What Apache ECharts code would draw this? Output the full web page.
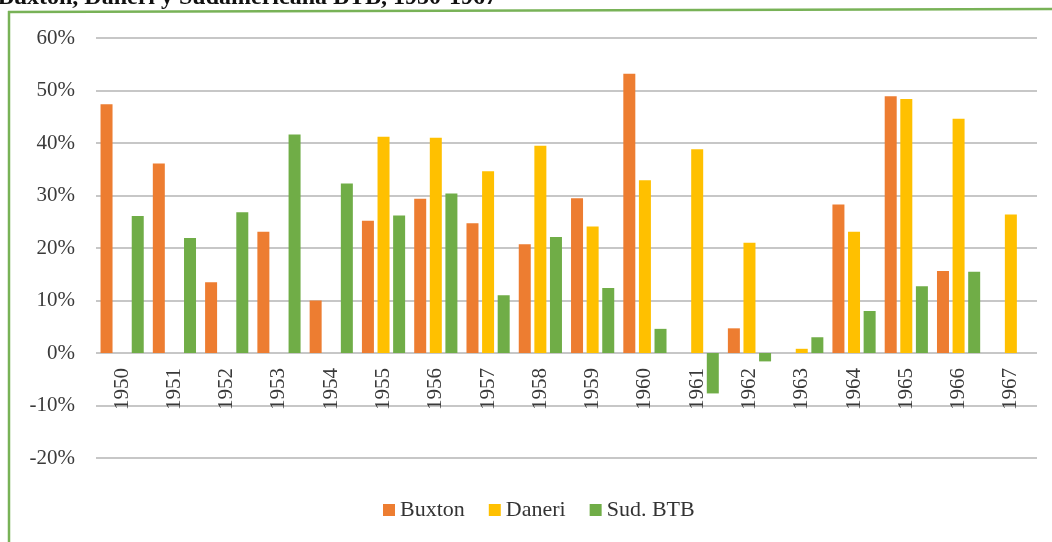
<!DOCTYPE html>
<html lang="es">
<head>
    <meta charset="UTF-8">
    <title>Buxton, Daneri y Sudamericana BTB</title>
    <script type="text/javascript" src="https://cdn.jsdelivr.net/npm/echarts@6/dist/echarts.min.js"></script>
    <style>
        html, body {
            width: 100%;
            height: 100%;
            margin: 0;
            padding: 0;
            background: #fff;
        }
        #main {
            width: 1052px;
            height: 542px;
        }
    </style>
</head>
<body>
    <div id="main"></div>
    <script>
        // datos (en %)
        var years = ['1950', '1951', '1952', '1953', '1954', '1955', '1956', '1957', '1958',
                     '1959', '1960', '1961', '1962', '1963', '1964', '1965', '1966', '1967'];
        var buxton = [47.4, 36.1, 13.5, 23.1, 10.0, 25.2, 29.4, 24.7, 20.7,
                      29.5, 53.2, null, 4.7, null, 28.3, 48.9, 15.6, null];
        var daneri = [null, null, null, null, null, 41.2, 41.0, 34.6, 39.5,
                      24.1, 32.9, 38.8, 21.0, 0.8, 23.1, 48.4, 44.6, 26.4];
        var sudBtb = [26.1, 21.9, 26.8, 41.6, 32.3, 26.2, 30.4, 11.0, 22.1,
                      12.4, 4.6, -7.7, -1.6, 3.0, 8.0, 12.7, 15.5, null];
        var seriesNames = ['Buxton', 'Daneri', 'Sud. BTB'];
        var colors = ['#ED7D31', '#FFC000', '#70AD47'];

        var serif = "'Liberation Serif', 'DejaVu Serif', serif";
        var myChart = echarts.init(document.getElementById('main'));

        function barSeries(name, data, color) {
            return {
                name: name,
                type: 'bar',
                data: data,
                barWidth: 12,
                barGap: '30%',
                itemStyle: { color: color }
            };
        }

        var option = {
            backgroundColor: '#fff',
            animation: false,
            color: colors,
            graphic: [
                {
                    type: 'text',
                    x: 497,
                    y: 10,
                    style: {
                        text: 'Buxton, Daneri y Sudamericana BTB, 1950-1967',
                        font: "bold 24px 'Liberation Serif', serif",
                        fill: '#111',
                        align: 'right',
                        verticalAlign: 'bottom'
                    }
                },
                {
                    type: 'line',
                    shape: { x1: 8, y1: 12, x2: 1052, y2: 9 },
                    style: { stroke: '#78b257', lineWidth: 2.5 }
                },
                {
                    type: 'line',
                    shape: { x1: 9, y1: 11, x2: 9, y2: 542 },
                    style: { stroke: '#78b257', lineWidth: 2.5 }
                }
            ],
            legend: {
                data: seriesNames,
                left: 378,
                top: 494,
                itemWidth: 12,
                itemHeight: 12,
                itemGap: 24,
                icon: 'rect',
                textStyle: { fontFamily: serif, fontSize: 22, color: '#333' }
            },
            grid: {
                left: 96,
                right: 15,
                top: 38,
                bottom: 84,
                containLabel: false
            },
            xAxis: {
                type: 'category',
                data: years,
                // el eje va en la línea del 0%
                offset: -105,
                axisTick: { show: false },
                axisLine: { onZero: false, show: false },
                axisLabel: {
                    rotate: 90,
                    margin: 15,
                    interval: 0,
                    fontFamily: serif,
                    fontSize: 21,
                    color: '#3a3a3a'
                }
            },
            yAxis: {
                type: 'value',
                min: -20,
                max: 60,
                interval: 10,
                axisLine: { show: false },
                axisTick: { show: false },
                axisLabel: {
                    formatter: '{value}%',
                    margin: 21,
                    fontFamily: serif,
                    fontSize: 21,
                    color: '#3a3a3a'
                },
                splitLine: { lineStyle: { color: '#b5b5b5', width: 1.5 } }
            },
            series: [
                barSeries(seriesNames[0], buxton, colors[0]),
                barSeries(seriesNames[1], daneri, colors[1]),
                barSeries(seriesNames[2], sudBtb, colors[2])
            ]
        };
        myChart.setOption(option);
    </script>
</body>
</html>
